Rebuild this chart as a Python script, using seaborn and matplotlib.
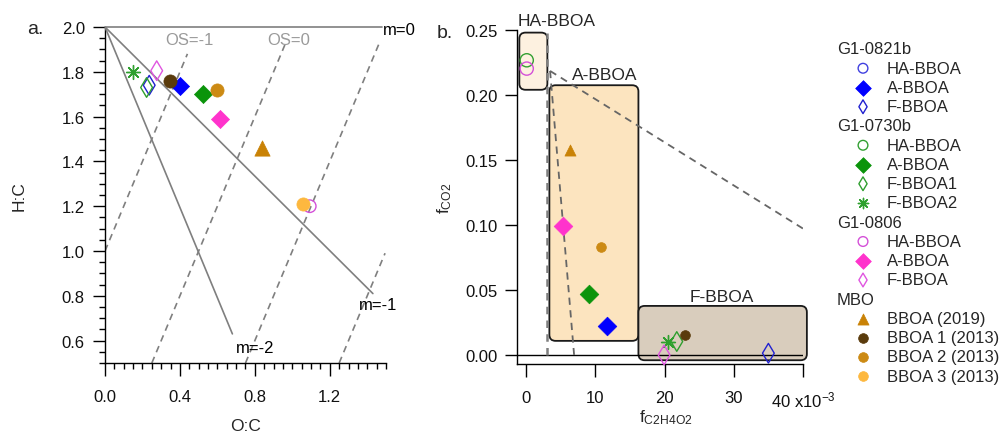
import warnings
import numpy as np
import seaborn as sns
import matplotlib
matplotlib.use("Agg")
import matplotlib.pyplot as plt
from matplotlib.patches import FancyBboxPatch
from matplotlib.ticker import MultipleLocator, FixedLocator, FixedFormatter

warnings.filterwarnings('ignore')  # asterisk marker edgecolor warning

nan = np.nan

# Series, in legend order
groups = ["G1-0821b", "G1-0730b", "G1-0806", "MBO"]
group_of = ["G1-0821b"] * 3 + ["G1-0730b"] * 4 + ["G1-0806"] * 3 + ["MBO"] * 4
names = ["HA-BBOA", "A-BBOA", "F-BBOA",
         "HA-BBOA", "A-BBOA", "F-BBOA1", "F-BBOA2",
         "HA-BBOA", "A-BBOA", "F-BBOA",
         "BBOA (2019)", "BBOA 1 (2013)", "BBOA 2 (2013)", "BBOA 3 (2013)"]

# panel a: Van Krevelen
o_to_c = [nan, 0.400, 0.236, nan, 0.524, 0.222, 0.147, 1.093, 0.613, 0.276, 0.836, 0.347, 0.596, 1.058]
h_to_c = [nan, 1.735, 1.740, nan, 1.700, 1.730, 1.800, 1.200, 1.590, 1.805, 1.460, 1.760, 1.720, 1.210]

# panel b: f_CO2 vs f_C2H4O2 (x10^-3)
f_c2h4o2 = [nan, 11.75, 35.0, 0.1, 9.15, 21.77, 20.57, 0.1, 5.3, 19.94, 6.36, 22.98, 10.84, nan]
f_co2 = [nan, 0.0223, 0.0013, 0.2267, 0.0467, 0.0103, 0.0103, 0.2203, 0.0992, 0.0, 0.158, 0.0152, 0.0834, nan]

# marker styles
colors = ["#4040E0", "#0000FF", "#2020D0", "#33A033", "#0B940B", "#2E9E2E", "#2EA02E",
          "#D450D8", "#FF33CC", "#E055E0", "#C98206", "#5A3B0C", "#CC8A14", "#FDB83F"]
markers = ["o", "D", "d", "o", "D", "d", (8, 2, 0), "o", "D", "d", "^", "o", "o", "o"]
filled = [False, True, False, False, True, False, False, False, True, False, True, True, True, True]

# regions in panel b
box_names = ["HA-BBOA", "A-BBOA", "F-BBOA"]
box_x0 = [-0.97, 3.37, 16.23]
box_x1 = [3.08, 16.23, 40.56]
box_y0 = [0.204, 0.0108, -0.0041]
box_y1 = [0.248, 0.2075, 0.0377]
box_fill = ["#FDF1E0", "#FCE4BF", "#D9CDBD"]
box_label_x = [4.4, 11.4, 28.3]
box_label_y = [0.257, 0.216, 0.045]

sns.set_style("ticks")
plt.rcParams['font.family'] = ['Liberation Sans', 'DejaVu Sans']
plt.rcParams['mathtext.fontset'] = 'custom'
plt.rcParams['mathtext.rm'] = 'Liberation Sans'
plt.rcParams['mathtext.it'] = 'Liberation Sans:italic'

fig = plt.figure(figsize=(10.03, 4.39), dpi=100)

GRAY = "#7f7f7f"


def marker_size(m, is_filled, panel):
    if panel == "a":
        table = {"o": 90 if is_filled else 81, "D": 85, "d": 100, "^": 121}
    elif panel == "b":
        table = {"o": 49 if is_filled else 90, "D": 90, "d": 100, "^": 64}
    else:
        table = {"o": 49, "D": 64, "d": 49, "^": 64}
    return table.get(m, 100 if panel != "leg" else 55) if isinstance(m, str) else (100 if panel != "leg" else 55)


def draw_point(ax, x, y, i, panel):
    m = markers[i]
    s = marker_size(m, filled[i], panel)
    c = colors[i]
    if filled[i]:
        sns.scatterplot(x=[x], y=[y], marker=m, s=s, color=c, edgecolor=c,
                        linewidth=0.5, ax=ax, zorder=6, legend=False, clip_on=False)
    elif not isinstance(m, str):
        sns.scatterplot(x=[x], y=[y], marker=m, s=s, color=c,
                        linewidth=1.0, ax=ax, zorder=6, legend=False, clip_on=False)
    else:
        sns.scatterplot(x=[x], y=[y], marker=m, s=s, color=c, facecolor="none",
                        edgecolor=c, linewidth=1.0, ax=ax, zorder=6, legend=False, clip_on=False)


def style_axes(ax, xpad, ypad):
    sns.despine(ax=ax)
    for sp in ["left", "bottom"]:
        ax.spines[sp].set_color("black")
        ax.spines[sp].set_linewidth(1.0)
    ax.tick_params(axis="both", which="major", direction="out", length=9, width=1.0,
                   color="black", labelsize=12, labelcolor="#111111")
    ax.tick_params(axis="x", which="major", pad=xpad)
    ax.tick_params(axis="y", which="major", pad=ypad)
    ax.tick_params(axis="both", which="minor", direction="out", length=4.5, width=1.0,
                   color="black")


# ---------------- panel a ----------------
ax = fig.add_axes([105 / 1003, 1 - 364 / 439, 281 / 1003, 336 / 439])
ax.set_xlim(0, 1.5)
ax.set_ylim(0.5, 2.0)
style_axes(ax, 10, 5.5)
ax.xaxis.set_major_locator(FixedLocator([0.0, 0.4, 0.8, 1.2]))
ax.xaxis.set_major_formatter(FixedFormatter(["0.0", "0.4", "0.8", "1.2"]))
ax.xaxis.set_minor_locator(MultipleLocator(0.05))
ax.yaxis.set_major_locator(MultipleLocator(0.2))
ax.yaxis.set_minor_locator(MultipleLocator(0.05))
ax.yaxis.set_major_formatter(plt.FormatStrFormatter("%.1f"))

# slope lines
ax.plot([0, 1.48], [2.0, 2.0], color=GRAY, lw=1.2, clip_on=False, zorder=3)
ax.plot([0, 1.43], [2.0, 0.81], color=GRAY, lw=1.2, zorder=3)
ax.plot([0, 0.68], [2.0, 0.63], color=GRAY, lw=1.2, zorder=3)
# oxidation state lines H:C = 2 O:C - OS
for os_val, x0, x1 in [(-1, 0.0, 0.44), (0, 0.25, 0.96), (1, 0.75, 1.47), (2, 1.25, 1.495)]:
    xs = np.array([x0, x1])
    ax.plot(xs, 2 * xs - os_val, color=GRAY, lw=1.2, ls=(0, (4, 3)), zorder=2)

ax.text(0.45, 1.945, "OS=-1", color="#9a9a9a", fontsize=12, ha="center", va="center")
ax.text(0.98, 1.945, "OS=0", color="#9a9a9a", fontsize=12, ha="center", va="center")
ax.text(1.57, 1.99, "m=0", color="black", fontsize=12, ha="center", va="center")
ax.text(1.46, 0.76, "m=-1", color="black", fontsize=12, ha="center", va="center")
ax.text(0.80, 0.57, "m=-2", color="black", fontsize=12, ha="center", va="center")

for i in range(len(names)):
    if not np.isnan(o_to_c[i]):
        draw_point(ax, o_to_c[i], h_to_c[i], i, "a")

ax.set_xlabel("O:C", fontsize=12.5)
ax.set_ylabel("H:C", fontsize=12.5)
ax.xaxis.set_label_coords(0.50, -0.165)
ax.yaxis.set_label_coords(-0.28, 0.50)
fig.text(35 / 1003, 1 - 30 / 439, "a.", fontsize=14, ha="center", va="center")

# ---------------- panel b ----------------
bx = fig.add_axes([516.7 / 1003, 1 - 365 / 439, 286.3 / 1003, 334 / 439])
bx.set_xlim(-1.35, 40)
bx.set_ylim(-0.007, 0.25)
style_axes(bx, 9.5, 4.5)
bx.xaxis.set_major_locator(FixedLocator([0, 10, 20, 30, 40]))
bx.xaxis.set_major_formatter(FixedFormatter(["0", "10", "20", "30", "40 x10$^{-3}$"]))
bx.yaxis.set_major_locator(FixedLocator([0, 0.05, 0.10, 0.15, 0.20, 0.25]))
bx.yaxis.set_major_formatter(plt.FormatStrFormatter("%.2f"))

aspect = (1 / 1300) / (1 / 6.92)
for k in range(len(box_names)):
    patch = FancyBboxPatch((box_x0[k], box_y0[k]), box_x1[k] - box_x0[k], box_y1[k] - box_y0[k],
                           boxstyle="round,pad=0,rounding_size=0.9", mutation_aspect=aspect,
                           facecolor=box_fill[k], edgecolor="#1a1a1a", lw=1.3,
                           zorder=1, clip_on=False)
    bx.add_patch(patch)
    bx.text(box_label_x[k], box_label_y[k], box_names[k], fontsize=12.5,
            ha="center", va="center", zorder=7)

bx.plot([-1.35, 40], [0, 0], color="black", lw=1.0, zorder=2)
bx.plot([3.08, 3.08], [0.0, 0.248], color=GRAY, lw=1.8, ls=(0, (3, 2.5)), zorder=3)
bx.plot([3.47, 6.94], [0.2185, 0.0], color="#666666", lw=1.3, ls=(0, (4, 3)), zorder=3)
bx.plot([3.47, 40], [0.2185, 0.0972], color="#666666", lw=1.3, ls=(0, (4, 3)), zorder=3)

for i in range(len(names)):
    if not np.isnan(f_c2h4o2[i]):
        draw_point(bx, f_c2h4o2[i], f_co2[i], i, "b")

bx.set_xlabel("f$_{\\mathrm{C2H4O2}}$", fontsize=12.5)
bx.set_ylabel("f$_{\\mathrm{CO2}}$", fontsize=12.5)
bx.xaxis.set_label_coords(0.52, -0.13)
bx.yaxis.set_label_coords(-0.22, 0.50)
fig.text(445 / 1003, 1 - 33 / 439, "b.", fontsize=14, ha="center", va="center")

# ---------------- legend ----------------
lax = fig.add_axes([0, 0, 1, 1])
lax.set_xlim(0, 1003)
lax.set_ylim(439, 0)
lax.axis("off")
lax.patch.set_alpha(0)

row = 0
for g in groups:
    y = 50 + 19.25 * row
    lax.text(837, y, g, fontsize=12, ha="left", va="center")
    row += 1
    for i in range(len(names)):
        if group_of[i] != g:
            continue
        y = 50 + 19.25 * row
        draw_point(lax, 863, y, i, "leg")
        lax.text(887, y, names[i], fontsize=12, ha="left", va="center")
        row += 1

fig.savefig("out.png", dpi=100)
